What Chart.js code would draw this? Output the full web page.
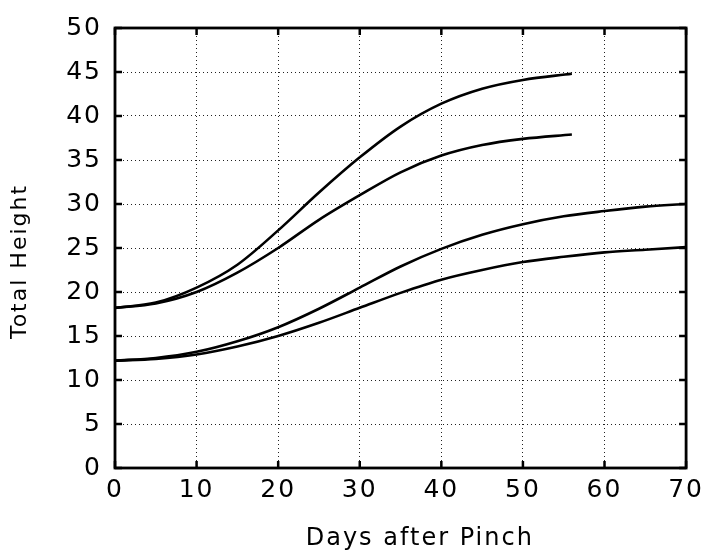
<!DOCTYPE html>
<html>
<head>
<meta charset="utf-8">
<script src="https://cdn.jsdelivr.net/npm/chart.js"></script>
<style>
  html, body { margin: 0; padding: 0; background: #fff; }
  #wrap { width: 709px; height: 553px; }
</style>
</head>
<body>
<div id="wrap"><canvas id="c"></canvas></div>
<script>
// data
const daysLong = [0, 5, 10, 15, 20, 25, 30, 35, 40, 45, 50, 56];
const seriesA = [18.2, 18.8, 20.5, 23.1, 27.0, 31.3, 35.3, 38.8, 41.4, 43.1, 44.1, 44.8];
const seriesB = [18.2, 18.7, 20.0, 22.2, 25.0, 28.2, 31.0, 33.6, 35.5, 36.7, 37.4, 37.9];
const daysShort = [0, 5, 10, 15, 20, 25, 30, 35, 40, 45, 50, 55, 60, 65, 70];
const seriesC = [12.2, 12.5, 13.2, 14.4, 16.0, 18.1, 20.5, 22.9, 24.9, 26.5, 27.7, 28.6, 29.2, 29.7, 30.0];
const seriesD = [12.2, 12.4, 12.9, 13.8, 15.0, 16.5, 18.2, 19.9, 21.4, 22.5, 23.4, 24.0, 24.5, 24.8, 25.1];

const xTicks = [0, 10, 20, 30, 40, 50, 60, 70];
const yTicks = [0, 5, 10, 15, 20, 25, 30, 35, 40, 45, 50];

const FONT = '"DejaVu Sans", sans-serif';

function pts(xs, ys) {
  return xs.map((x, i) => ({ x: x, y: ys[i] }));
}

function line(xs, ys) {
  return {
    data: pts(xs, ys),
    borderColor: '#000',
    borderWidth: 2.6,
    pointRadius: 0,
    cubicInterpolationMode: 'monotone',
    fill: false
  };
}

// wider letter spacing like the original lettering
const spacing = {
  id: 'spacing',
  beforeDraw(chart) {
    chart.ctx.letterSpacing = '2px';
  }
};

// small inward tick marks on all four sides + frame
const innerTicks = {
  id: 'innerTicks',
  afterDraw(chart) {
    const { ctx, chartArea: a, scales } = chart;
    ctx.save();
    ctx.strokeStyle = '#000';
    ctx.lineWidth = 2.5;
    const len = 7;
    xTicks.forEach(v => {
      const px = scales.x.getPixelForValue(v);
      ctx.beginPath();
      ctx.moveTo(px, a.bottom); ctx.lineTo(px, a.bottom - len);
      ctx.moveTo(px, a.top); ctx.lineTo(px, a.top + len);
      ctx.stroke();
    });
    yTicks.forEach(v => {
      const py = scales.y.getPixelForValue(v);
      ctx.beginPath();
      ctx.moveTo(a.left, py); ctx.lineTo(a.left + len, py);
      ctx.moveTo(a.right, py); ctx.lineTo(a.right - len, py);
      ctx.stroke();
    });
    ctx.lineWidth = 2.8;
    ctx.strokeRect(a.left, a.top, a.right - a.left, a.bottom - a.top);
    ctx.restore();
  }
};

new Chart(document.getElementById('c'), {
  type: 'line',
  data: {
    datasets: [
      line(daysLong, seriesA),
      line(daysLong, seriesB),
      line(daysShort, seriesC),
      line(daysShort, seriesD)
    ]
  },
  options: {
    responsive: true,
    maintainAspectRatio: false,
    animation: false,
    layout: { padding: { top: 20, right: 20, left: 7, bottom: 0 } },
    plugins: { legend: { display: false }, tooltip: { enabled: false } },
    scales: {
      x: {
        type: 'linear',
        min: 0, max: 70,
        afterFit(s) { s.height = 85; },
        afterBuildTicks(s) { s.ticks = xTicks.map(v => ({ value: v })); },
        grid: { color: '#222', lineWidth: 1, drawTicks: false },
        border: { display: false, dash: [1, 3] },
        ticks: {
          color: '#000',
          font: { family: FONT, size: 25 },
          padding: 7,
          maxRotation: 0
        },
        title: {
          display: true,
          text: '    Days after Pinch',
          color: '#000',
          font: { family: FONT, size: 24 },
          padding: { top: 8, bottom: 0 }
        }
      },
      y: {
        min: 0, max: 50,
        afterFit(s) { s.width = 108; },
        afterBuildTicks(s) { s.ticks = yTicks.map(v => ({ value: v })); },
        grid: { color: '#222', lineWidth: 1, drawTicks: false },
        border: { display: false, dash: [1, 3] },
        ticks: {
          color: '#000',
          font: { family: FONT, size: 25 },
          padding: 13
        },
        title: {
          display: true,
          text: 'Total Height   ',
          color: '#000',
          font: { family: FONT, size: 22 },
          padding: { top: 0, bottom: 10 }
        }
      }
    }
  },
  plugins: [spacing, innerTicks]
});
</script>
</body>
</html>
